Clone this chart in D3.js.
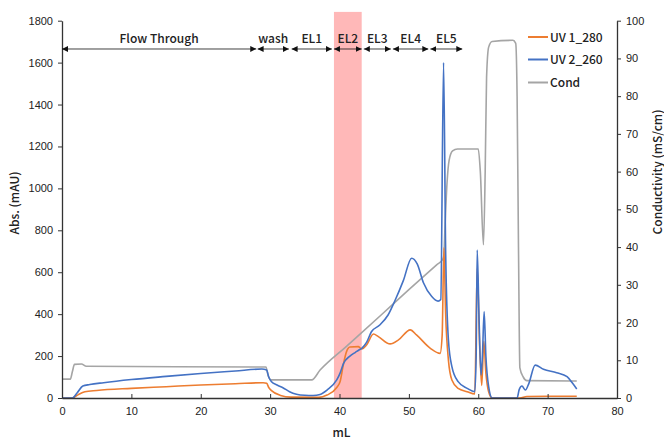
<!DOCTYPE html>
<html><head><meta charset="utf-8">
<script src="https://cdn.jsdelivr.net/npm/d3@7"></script>
<style>
body{margin:0;background:#fff;}
svg{display:block;font-family:"Noto Sans CJK JP","Noto Sans",sans-serif;}
</style></head>
<body><svg id="c" width="664" height="441"></svg>
<script>
// ---- data ----
const xTicks = [0,10,20,30,40,50,60,70,80];
const yLeftTicks = [0,200,400,600,800,1000,1200,1400,1600,1800];
const yRightTicks = [0,10,20,30,40,50,60,70,80,90,100];
const seriesNames = ["UV 1_280","UV 2_260","Cond"];
const seriesColors = ["#ED7D31","#4472C4","#A5A5A5"];
const uv280 = [[0,0],[1.5,0],[2.3,15],[3.3,30],[5,36],[10,46],[15,54],[20,62],[25,68],[29,73],[29.5,70],[29.8,50],[30.2,35],[31.5,12],[33,4],[37,3],[38.2,14],[39.6,50],[40.1,80],[40.5,150],[41,220],[41.5,243],[42.7,245],[43.2,234],[43.9,253],[44.9,305],[45.6,293],[47.3,258],[48.5,277],[50.2,325],[51.1,301],[53.1,237],[54.5,213],[54.8,300],[55.05,716],[55.3,400],[55.7,181],[56.2,86],[57.1,46],[58.4,30],[59.5,19],[59.85,620],[60.2,250],[60.5,60],[60.8,270],[61.1,120],[61.5,30],[62,0],[66,0],[67,7],[70,8],[74.2,8]];
const uv260 = [[0,0],[1.5,0],[2.2,25],[3,57],[4,64],[6,73],[10,88],[15,103],[20,117],[25,129],[28.8,138],[29.5,134],[29.8,100],[30.2,78],[31,62],[31.9,48],[32.8,30],[33.8,18],[35,13],[36.2,12],[37.2,17],[38.2,38],[39.6,86],[40.1,120],[40.6,166],[41.5,200],[42.3,218],[42.8,229],[43.2,237],[43.9,265],[44.6,316],[45.8,348],[47,396],[48,465],[49.2,560],[50.4,667],[51.2,640],[52.1,550],[53.3,484],[54.2,462],[54.6,470],[55.0,1600],[55.3,700],[55.7,277],[56.2,150],[57.1,78],[58.4,46],[59.5,30],[59.7,200],[59.85,706],[60.1,400],[60.4,110],[60.6,200],[60.85,412],[61.1,200],[61.5,54],[62,0],[65.6,0],[65.9,40],[66.3,57],[66.8,38],[67.3,70],[68.2,157],[69.4,137],[71.3,121],[72.8,102],[73.6,70],[74.2,43]];
const cond = [[0,5],[1.2,5],[1.5,7],[1.8,8.9],[2.8,9],[3.5,8.4],[29.4,8.2],[29.7,6],[30.1,4.8],[36,4.8],[37.2,7.4],[41,13.7],[46,22],[50,28.7],[54,35.3],[54.9,36.8],[55.05,38],[55.2,45],[55.5,57],[55.8,63],[56.3,65.5],[57,66],[60,66],[60.3,60],[60.75,40.6],[61,60],[61.2,85],[61.5,93],[62,94.5],[65,94.8],[65.4,94],[65.6,80],[65.8,40],[66,8],[66.5,5.5],[67,4.6],[74.2,4.5]];
const fractionNames = ["Flow Through","wash","EL1","EL2","EL3","EL4","EL5"];
const fractionStart = [0,28.2,33.1,39.2,43.5,47.7,53.1];
const fractionEnd   = [28,32.7,38.9,43.2,47.4,52.8,57.7];
const bandRange = [39.2,43.2];

// ---- layout ----
const svg = d3.select("#c");
const L=62, R=617, T=20.7, B=398;
const x = d3.scaleLinear().domain([0,80]).range([L,R]);
const yL = d3.scaleLinear().domain([0,1800]).range([B,T]);
const yR = d3.scaleLinear().domain([0,100]).range([B,T]);
const txt = "#222";
const fmt = d3.format("d");

// pink band
svg.append("rect").attr("x",x(bandRange[0])).attr("width",x(bandRange[1])-x(bandRange[0]))
  .attr("y",yL(1842)).attr("height",yL(0)-yL(1842)).attr("fill","#FFB8B8");

// lines
const line = d3.line().curve(d3.curveMonotoneX).x(d=>x(d[0]));
svg.append("path").datum(cond).attr("fill","none").attr("stroke",seriesColors[2]).attr("stroke-width",1.6)
  .attr("d",line.y(d=>yR(d[1])));
svg.append("path").datum(uv280).attr("fill","none").attr("stroke",seriesColors[0]).attr("stroke-width",1.6)
  .attr("d",line.y(d=>yL(d[1])));
svg.append("path").datum(uv260).attr("fill","none").attr("stroke",seriesColors[1]).attr("stroke-width",1.6)
  .attr("d",line.y(d=>yL(d[1])));

// axes
function styleAxis(g){
  g.selectAll("path.domain").attr("stroke","#333").attr("stroke-width",1.3);
  g.selectAll(".tick line").attr("stroke","#333").attr("stroke-width",1);
  g.selectAll(".tick text").attr("fill",txt).attr("font-size",11).attr("font-weight",500);
}
svg.append("g").attr("transform",`translate(0,${B})`)
  .call(d3.axisBottom(x).tickValues(xTicks).tickFormat(fmt).tickSizeInner(-4).tickSizeOuter(0).tickPadding(9))
  .call(styleAxis);
svg.append("g").attr("transform",`translate(${L},0)`)
  .call(d3.axisLeft(yL).tickValues(yLeftTicks).tickFormat(fmt).tickSize(4).tickSizeOuter(0).tickPadding(5))
  .call(styleAxis);
svg.append("g").attr("transform",`translate(${R},0)`)
  .call(d3.axisRight(yR).tickValues(yRightTicks).tickFormat(fmt).tickSize(4).tickSizeOuter(0).tickPadding(5))
  .call(styleAxis);

// axis titles
svg.append("text").attr("x",x(40)+2).attr("y",437).attr("text-anchor","middle")
  .attr("font-size",12).attr("font-weight",500).attr("fill",txt).text("mL");
svg.append("text").attr("transform",`translate(19,${203}) rotate(-90)`).attr("text-anchor","middle")
  .attr("font-size",12).attr("font-weight",500).attr("fill",txt).text("Abs. (mAU)");
svg.append("text").attr("transform",`translate(662,${172}) rotate(-90)`).attr("text-anchor","middle")
  .attr("font-size",12).attr("font-weight",500).attr("fill",txt).text("Conductivity (mS/cm)");

// arrow markers
const defs = svg.append("defs");
defs.append("marker").attr("id","ah").attr("viewBox","0 0 10 10").attr("refX",10).attr("refY",5)
  .attr("markerWidth",6).attr("markerHeight",6).attr("markerUnits","userSpaceOnUse").attr("orient","auto-start-reverse")
  .append("path").attr("d","M0,0L10,5L0,10Z").attr("fill","#111");

const ay = yL(1665);
fractionNames.forEach((n,i)=>{
  svg.append("line").attr("x1",x(fractionStart[i])).attr("x2",x(fractionEnd[i]))
    .attr("y1",ay).attr("y2",ay).attr("stroke","#111").attr("stroke-width",0.8)
    .attr("marker-start","url(#ah)").attr("marker-end","url(#ah)");
  svg.append("text").attr("x",(x(fractionStart[i])+x(fractionEnd[i]))/2).attr("y",ay-6)
    .attr("text-anchor","middle").attr("font-size",12).attr("font-weight",500).attr("fill",txt).text(n);
});

// legend
const legY = [37,59.5,82.5];
seriesNames.forEach((n,i)=>{
  svg.append("line").attr("x1",528).attr("x2",548).attr("y1",legY[i]).attr("y2",legY[i])
    .attr("stroke",seriesColors[i]).attr("stroke-width",2);
  svg.append("text").attr("x",550).attr("y",legY[i]+4.5).attr("font-size",12).attr("font-weight",500)
    .attr("fill",txt).text(n);
});
</script></body></html>
